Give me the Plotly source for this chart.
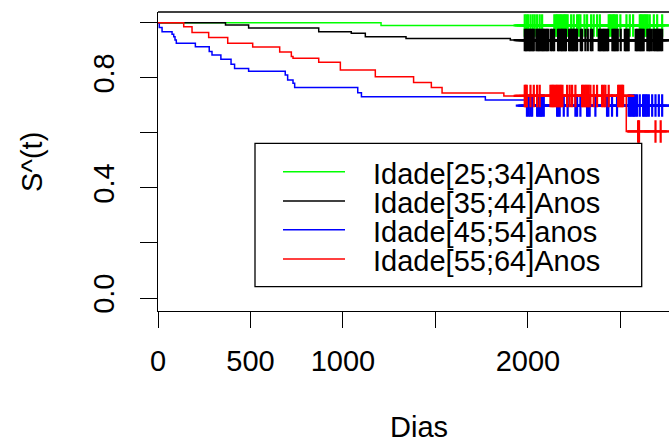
import numpy as np
import plotly.graph_objects as go

# ---------------- data ----------------
group_names = ["Idade[25;34]Anos", "Idade[35;44]Anos", "Idade[45;54]anos", "Idade[55;64]Anos"]
group_colors = ["#00FF00", "#000000", "#0000FF", "#FF0000"]

# Kaplan-Meier step times (days) and survival estimates
green_times = [0, 1206]
green_surv = [1.0, 0.990]

black_times = [0, 365, 490, 869, 1045, 1121, 1341, 1905]
black_surv = [1.0, 0.992, 0.981, 0.967, 0.962, 0.949, 0.943, 0.937]

blue_times = [0, 7, 22, 76, 85, 92, 99, 202, 277, 292, 340, 395, 414, 490,
              688, 701, 730, 739, 1080, 1100, 1770, 1990]
blue_surv = [1.0, 0.983, 0.967, 0.958, 0.949, 0.937, 0.925, 0.913, 0.895, 0.883,
             0.867, 0.849, 0.834, 0.824, 0.810, 0.792, 0.780, 0.765, 0.746,
             0.731, 0.719, 0.699]

red_times = [0, 139, 184, 274, 377, 512, 658, 721, 730, 869, 986, 1175, 1382,
             1478, 1536, 1870, 2532]
red_surv = [1.0, 0.9855, 0.964, 0.946, 0.925, 0.912, 0.894, 0.877, 0.871, 0.856,
            0.828, 0.804, 0.783, 0.765, 0.745, 0.734, 0.605]

# censoring times (days)
green_cens = [1983, 1992, 2001, 2014, 2026, 2037, 2050, 2064, 2077, 2143, 2151, 2158,
              2165, 2172, 2179, 2187, 2194, 2201, 2208, 2215, 2234, 2248, 2266, 2275,
              2284, 2306, 2320, 2342, 2356, 2374, 2389, 2437, 2444, 2452, 2459, 2466,
              2473, 2482, 2500, 2533, 2551, 2569, 2605, 2612, 2619, 2626, 2634, 2641,
              2648, 2659, 2681, 2699, 2726]
black_cens = [1983, 1990, 1997, 2005, 2012, 2019, 2026, 2032, 2046, 2053, 2060, 2068,
              2075, 2082, 2089, 2096, 2104, 2111, 2125, 2133, 2142, 2163, 2170, 2178,
              2185, 2192, 2199, 2206, 2223, 2230, 2237, 2244, 2251, 2259, 2266, 2286,
              2293, 2311, 2324, 2340, 2349, 2383, 2390, 2397, 2405, 2412, 2419, 2426,
              2434, 2457, 2464, 2471, 2479, 2486, 2502, 2524, 2531, 2538, 2545, 2583,
              2590, 2598, 2605, 2612, 2619, 2626, 2646, 2654, 2661, 2670, 2682, 2690,
              2697, 2704, 2711, 2718, 2726]
blue_cens = [1995, 2005, 2014, 2023, 2050, 2057, 2064, 2071, 2078, 2086, 2158, 2165,
             2172, 2194, 2215, 2257, 2266, 2284, 2320, 2327, 2334, 2365, 2428, 2435,
             2455, 2482, 2545, 2553, 2560, 2567, 2574, 2581, 2590, 2605, 2623, 2630,
             2637, 2645, 2654, 2672, 2690, 2708, 2726]
red_cens = [1983, 1988, 1994, 2014, 2032, 2050, 2064, 2122, 2129, 2136, 2143, 2151,
            2158, 2165, 2172, 2179, 2187, 2212, 2226, 2239, 2257, 2293, 2300, 2307,
            2315, 2322, 2329, 2338, 2356, 2374, 2401, 2410, 2419, 2437, 2488, 2495,
            2502, 2509, 2515, 2596, 2601, 2690, 2718]

last_followup = [2790, 2790, 2790, 2790]

x_tick_vals = [0, 500, 1000, 1500, 2000, 2500]
x_tick_text = ["0", "500", "1000", "", "2000", ""]
y_tick_vals = [0.0, 0.2, 0.4, 0.6, 0.8, 1.0]
y_tick_text = ["0.0", "", "0.4", "", "0.8", ""]

x_title = "Dias"
y_title = "S^(t)"

# ---------------- figure ----------------
W, H = 669, 443
L, R, T, B = 158, 0, 12, 132
PW, PH = W - L - R, H - T - B
FONT = "Liberation Sans, Arial, sans-serif"
FS = 29


def px2x(px):
    return (px - L) / PW


def py2y(py):
    return (H - B - py) / PH


groups = [
    (green_times, green_surv, green_cens),
    (black_times, black_surv, black_cens),
    (blue_times, blue_surv, blue_cens),
    (red_times, red_surv, red_cens),
]

fig = go.Figure()
for (t, s, c), name, col, tend in zip(groups, group_names, group_colors, last_followup):
    xs = list(t) + [tend]
    ys = list(s) + [s[-1]]
    fig.add_trace(go.Scatter(x=xs, y=ys, mode="lines", line=dict(color=col, width=1.5, shape="hv"),
                             name=name, showlegend=False, hoverinfo="skip"))
    idx = np.searchsorted(np.array(t), np.array(c), side="right") - 1
    cy = np.array(s)[idx]
    fig.add_trace(go.Scatter(x=c, y=cy, mode="markers",
                             marker=dict(symbol="cross-thin", size=16,
                                         line=dict(color=col, width=2.2), color=col),
                             showlegend=False, hoverinfo="skip"))

fig.update_layout(
    width=W, height=H,
    margin=dict(l=L, r=R, t=T, b=B, pad=0),
    paper_bgcolor="white", plot_bgcolor="white",
    font=dict(family=FONT, size=FS, color="black"),
    showlegend=False,
)
fig.update_xaxes(range=[0, 2763], tickvals=x_tick_vals, ticktext=x_tick_text,
                 ticks="outside", ticklen=16, tickwidth=1.3, tickcolor="black",
                 showline=True, linecolor="black", linewidth=1.3, showgrid=False,
                 zeroline=False, tickfont=dict(size=FS, family=FONT, color="black"),
                 ticklabelstandoff=8)
fig.update_yaxes(range=[-0.0472, 1.0389], tickvals=y_tick_vals, ticktext=y_tick_text,
                 ticks="outside", ticklen=17, tickwidth=1.3, tickcolor="black",
                 showline=True, linecolor="black", linewidth=1.3, showgrid=False,
                 zeroline=False, tickangle=-90,
                 tickfont=dict(size=FS, family=FONT, color="black"),
                 ticklabelstandoff=14)

shapes = []
# top border of the box
shapes.append(dict(type="line", xref="paper", yref="paper", x0=0, x1=1, y0=1, y1=1,
                   line=dict(color="black", width=1.3)))
# legend box
lx0, lx1, ly0, ly1 = 255, 641.7, 143.3, 286.7
shapes.append(dict(type="rect", xref="paper", yref="paper",
                   x0=px2x(lx0), x1=px2x(lx1), y0=py2y(ly1), y1=py2y(ly0),
                   line=dict(color="black", width=1.3), fillcolor="white", layer="above"))
row_y = [171.7, 201.0, 229.8, 259.0]
annotations = []
for name, col, ry in zip(group_names, group_colors, row_y):
    shapes.append(dict(type="line", xref="paper", yref="paper",
                       x0=px2x(283), x1=px2x(345), y0=py2y(ry), y1=py2y(ry),
                       line=dict(color=col, width=1.5), layer="above"))
    annotations.append(dict(text=name, xref="paper", yref="paper", x=px2x(371), y=py2y(ry + 2),
                            xanchor="left", yanchor="middle", showarrow=False,
                            font=dict(size=FS, family=FONT, color="black")))

annotations.append(dict(text=x_title, xref="paper", yref="paper", x=px2x(419), y=py2y(427),
                        xanchor="center", yanchor="middle", showarrow=False,
                        font=dict(size=FS, family=FONT, color="black")))
annotations.append(dict(text=y_title, xref="paper", yref="paper", x=px2x(32), y=py2y(162),
                        xanchor="center", yanchor="middle", showarrow=False, textangle=-90,
                        font=dict(size=FS, family=FONT, color="black")))

fig.update_layout(shapes=shapes, annotations=annotations)
fig.write_html("out.html")
